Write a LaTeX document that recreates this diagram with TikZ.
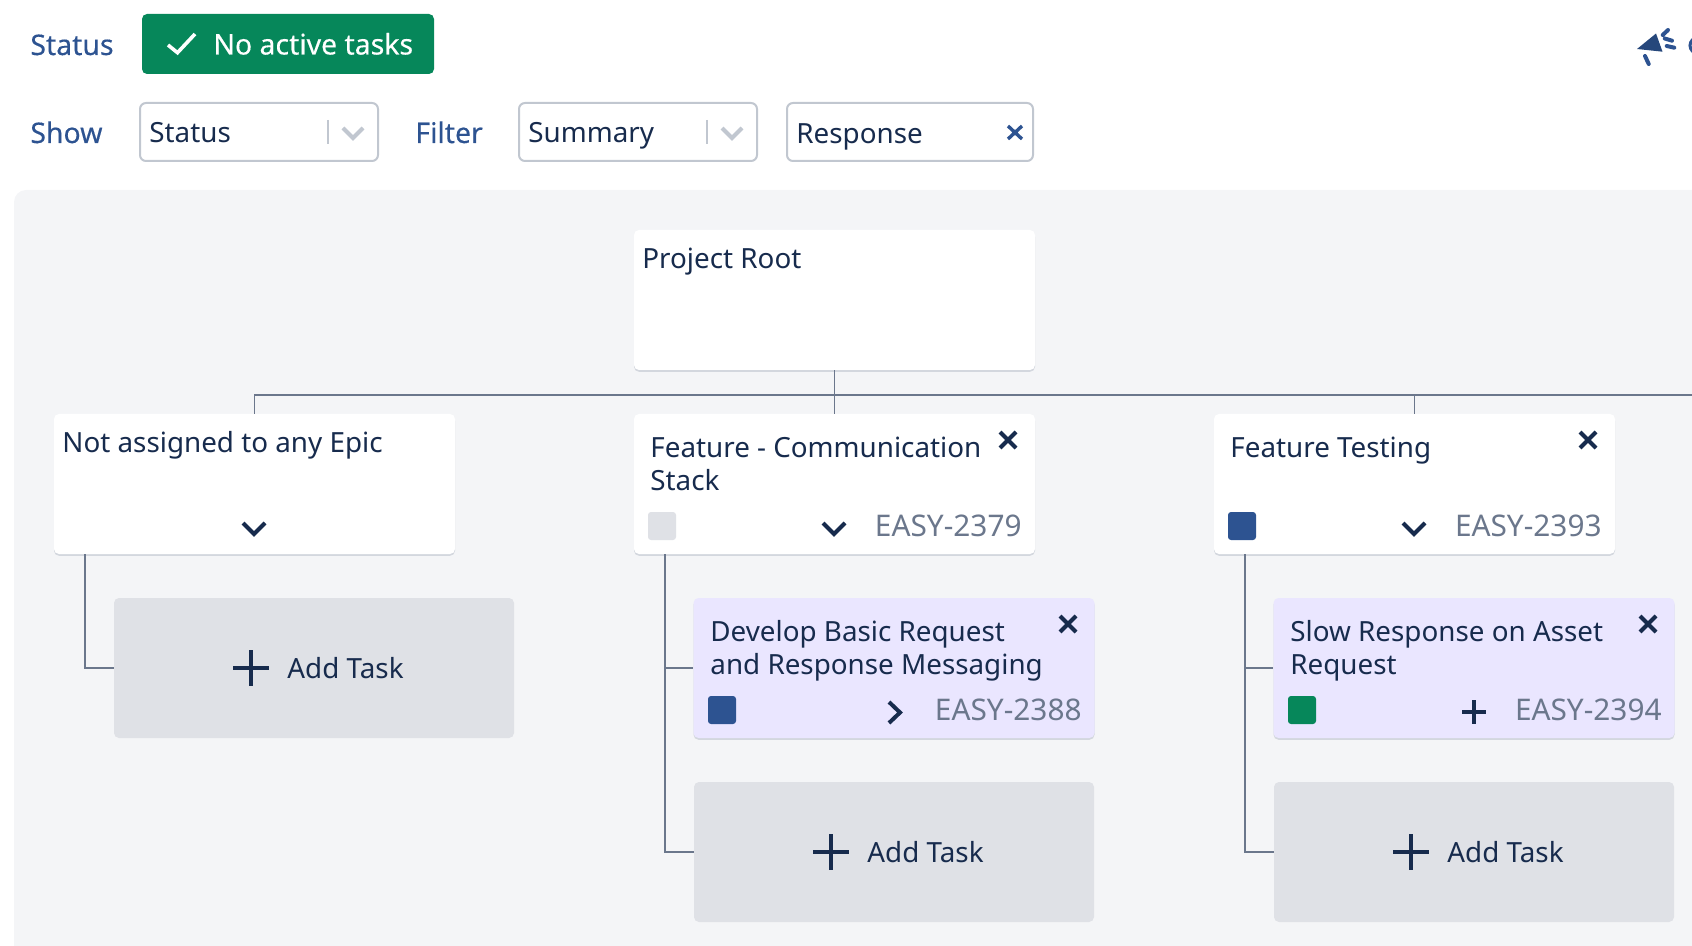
\documentclass[tikz,border=0pt]{standalone}
\usepackage{fontspec}
\setmainfont{Noto Sans}
\usetikzlibrary{shadows}
\definecolor{inkdark}{HTML}{172B4D}
\definecolor{inkgray}{HTML}{6B778C}
\definecolor{inkblue}{HTML}{2D5391}
\definecolor{okgreen}{HTML}{06875A}
\definecolor{panelbg}{HTML}{F4F5F7}
\definecolor{addbg}{HTML}{DFE1E6}
\definecolor{storybg}{HTML}{EAE6FF}
\definecolor{fieldline}{HTML}{C1C7D0}
\tikzset{
  txt/.style={inner sep=0pt,anchor=base west,text=inkdark,font=\fontsize{13.9}{16.5}\selectfont,align=left},
  bluetxt/.style={txt,text=inkblue,font=\fontsize{14.2}{16.5}\selectfont\addfontfeature{FakeBold=0.3}},
  keytxt/.style={txt,anchor=base east,text=inkgray,font=\fontsize{14.9}{16.5}\selectfont},
  fieldbox/.style={draw=fieldline,line width=1pt,rounded corners=3pt,minimum height=29pt,inner sep=0pt},
  card/.style={fill=white,rounded corners=2.5pt,minimum width=200.5pt,minimum height=70pt,inner sep=0pt,
    general shadow={fill=fieldline!65!panelbg,shadow yshift=-0.9pt}},
  storycard/.style={card,fill=storybg},
  addcard/.style={fill=addbg,rounded corners=2.5pt,minimum width=200pt,minimum height=70pt,inner sep=0pt},
  chip/.style={rounded corners=1.5pt,minimum size=14pt,inner sep=0pt},
  link/.style={draw=inkgray,line width=0.8pt},
  icon/.style={draw=inkdark,line width=2pt},
  greyicon/.style={draw=fieldline,line width=2pt},
}

\begin{document}
\begin{tikzpicture}[x=0.5pt,y=-0.5pt]
  \clip[use as bounding box] (0,0) rectangle (1692,946);
  \fill[panelbg,rounded corners=6pt] (14,190) rectangle (1730,990);

  % top bar
  \node[bluetxt] (statuslabel) at (30,55) {Status};
  \node[fill=okgreen,rounded corners=2.5pt,minimum width=146pt,minimum height=30pt,inner sep=0pt] (statusbtn) at (288,44) {};
  \draw[draw=white,line width=1.8pt] (168,45) -- (177.5,52.7) -- (195,34);
  \node[bluetxt,text=white] (statustext) at (213,54.5) {No active tasks};
  \node[bluetxt] (showlabel) at (30,143) {Show};
  \node[fieldbox,minimum width=119pt] (showbox) at (259,132) {};
  \node[txt] (showtext) at (149,143) {Status};
  \draw[draw=fieldline,line width=0.8pt] (328,120) -- (328,144);
  \draw[greyicon] (343,128) -- (353,138) -- (363,128);
  \node[bluetxt] (filterlabel) at (415,143) {Filter};
  \node[fieldbox,minimum width=119pt] (filterbox) at (638,132) {};
  \node[txt] (filtertext) at (528,143) {Summary};
  \draw[draw=fieldline,line width=0.8pt] (707,120) -- (707,144);
  \draw[greyicon] (722,128) -- (732,138) -- (742,128);
  \node[fieldbox,minimum width=123pt] (searchbox) at (910,132) {};
  \node[txt] (searchtext) at (796,144) {Response};
  \draw[draw=inkblue,line width=1.7pt] (1008,126) -- (1022,139) (1022,126) -- (1008,139);

  % megaphone
  \fill[inkblue!85!black] (1637,49) -- (1656,33.5) -- (1662.5,51.7) -- cycle;
  \draw[draw=inkblue,line width=2pt,line cap=round] (1645,56) -- (1648.7,64)
    (1662.7,35) -- (1668,30) (1664.7,38.5) -- (1672,40.7) (1666.7,46) -- (1674.3,47.7);
  \draw[draw=inkblue,line width=1.5pt] (1698,45.5) circle (8);

  % tree
  \coordinate (barend) at (1692,395);
  \coordinate (stemA) at (85,554);
  \coordinate (stemB) at (665,554);
  \coordinate (stemC) at (1245,554);
  \node[card] (root) at (834.5,300) {};
  \node[card] (epicA) at (254.5,484) {};
  \node[card] (epicB) at (834.5,484) {};
  \node[card] (epicC) at (1414.5,484) {};
  \node[storycard] (storyB) at (894,668) {};
  \node[storycard] (storyC) at (1474,668) {};
  \node[addcard] (addA) at (314,668) {};
  \node[addcard] (addB) at (894,852) {};
  \node[addcard] (addC) at (1474,852) {};

  \draw[link] (root.south) -- (epicB.north);
  \draw[link] (epicA.north) |- (barend);
  \draw[link] (epicC.north) -- (epicC.north |- barend);
  \draw[link] (stemA) |- (addA.west);
  \draw[link] (stemB) |- (addB.west);
  \draw[link] (stemB |- storyB.west) -- (storyB.west);
  \draw[link] (stemC) |- (addC.west);
  \draw[link] (stemC |- storyC.west) -- (storyC.west);

  \node[txt] (roottext) at (642,269) {Project Root};

  \node[txt] (epicAtext) at (62,452) {Not assigned to any Epic};
  \draw[icon] (243,523) -- (254,534) -- (265,523);
  \node[txt] (plusAtext) at (287,678) {Add Task};
  \draw[icon] (233,668) -- (269,668) (251,650) -- (251,686);

  \node[txt] (epicBtext) at (650,490.5) {Feature - Communication\\Stack};
  \draw[icon] (1000,432) -- (1016,448) (1016,432) -- (1000,448);
  \node[chip,fill=addbg] (chipB) at (662,526) {};
  \draw[icon] (823,523) -- (834,534) -- (845,523);
  \node[keytxt] (keyB) at (1022,536.5) {EASY-2379};

  \node[txt] (storyBtext) at (710,674) {Develop Basic Request\\and Response Messaging};
  \draw[icon] (1060,616) -- (1076,632) (1076,616) -- (1060,632);
  \node[chip,fill=inkblue] (chipBB) at (722,710) {};
  \draw[icon] (889,702) -- (900,712.5) -- (889,723);
  \node[keytxt] (keyBB) at (1082,720.5) {EASY-2388};
  \node[txt] (plusBtext) at (867,862) {Add Task};
  \draw[icon] (813,852) -- (849,852) (831,834) -- (831,870);

  \node[txt] (epicCtext) at (1230,458) {Feature Testing};
  \draw[icon] (1580,432) -- (1596,448) (1596,432) -- (1580,448);
  \node[chip,fill=inkblue] (chipC) at (1242,526) {};
  \draw[icon] (1403,523) -- (1414,534) -- (1425,523);
  \node[keytxt] (keyC) at (1602,536.5) {EASY-2393};

  \node[txt] (storyCtext) at (1290,674) {Slow Response on Asset\\Request};
  \draw[icon] (1640,616) -- (1656,632) (1656,616) -- (1640,632);
  \node[chip,fill=okgreen] (chipCC) at (1302,710) {};
  \draw[icon] (1462,712) -- (1486,712) (1474,700) -- (1474,724);
  \node[keytxt] (keyCC) at (1662,720.5) {EASY-2394};
  \node[txt] (plusCtext) at (1447,862) {Add Task};
  \draw[icon] (1393,852) -- (1429,852) (1411,834) -- (1411,870);
\end{tikzpicture}
\end{document}
